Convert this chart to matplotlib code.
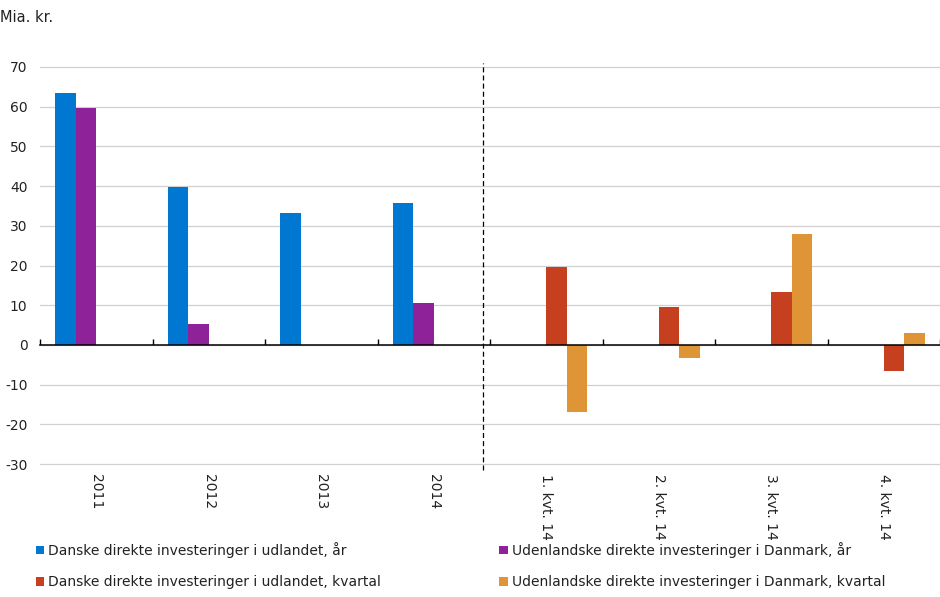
import matplotlib
matplotlib.use("Agg")
import matplotlib.pyplot as plt
import numpy as np
from matplotlib.patches import Patch

categories = ["2011", "2012", "2013", "2014", "1. kvt. 14", "2. kvt. 14", "3. kvt. 14", "4. kvt. 14"]
dk_year = [63.4, 39.7, 33.2, 35.8, 0, 0, 0, 0]
fdi_year = [59.6, 5.3, 0, 10.5, 0, 0, 0, 0]
dk_quarter = [0, 0, 0, 0, 19.6, 9.6, 13.3, -6.7]
fdi_quarter = [0, 0, 0, 0, -16.9, -3.4, 28.0, 3.0]
series_names = [
    "Danske direkte investeringer i udlandet, år",
    "Udenlandske direkte investeringer i Danmark, år",
    "Danske direkte investeringer i udlandet, kvartal",
    "Udenlandske direkte investeringer i Danmark, kvartal",
]
colors = ["#0078d2", "#8e2399", "#c63f1f", "#df9536"]

plt.rcParams['font.family'] = ['DejaVu Sans']
plt.rcParams['axes.unicode_minus'] = False
fig = plt.figure(figsize=(9.4, 5.97), dpi=100)
ax = fig.add_axes([40/940, 1-464/597, 1-40/940, (464-67)/597])

x = np.arange(len(categories))
w = 0.182
for i, vals in enumerate([dk_year, fdi_year, dk_quarter, fdi_quarter]):
    ax.bar(x + (i - 1.5) * w, vals, width=w, color=colors[i], zorder=3)

ax.set_xlim(-0.5, len(categories) - 0.5)
ax.set_ylim(-30, 70)
ax.set_yticks(range(-30, 71, 10))
ax.yaxis.grid(True, color="#d0d0d0", lw=0.9, zorder=0)
for gl in ax.get_ygridlines():
    gl.set_clip_on(False)
ax.tick_params(axis='y', length=0, pad=9, labelsize=10, colors="#222222")
for s in ['left', 'right', 'top']:
    ax.spines[s].set_visible(False)
ax.spines['bottom'].set_position(('data', 0))
ax.spines['bottom'].set_zorder(4)
ax.spines['bottom'].set_linewidth(1.1)

ax.set_xticks(x)
ax.set_xticklabels(categories, rotation=270, va='top', ha='center', fontsize=10, color="#222222")
ax.set_xticks(np.arange(-0.5, len(categories) + 0.5, 1), minor=True)
ax.tick_params(axis='x', which='major', length=0, pad=93)
ax.tick_params(axis='x', which='minor', direction='in', length=4, width=1)

ax.axvline(3.44, ymin=-0.015, ymax=1.01, color='black', lw=0.9, ls=(0, (4, 2.5)), clip_on=False, zorder=5)

fig.text(0.0, 1-18/597, "Mia. kr.", fontsize=10.5, va='center', ha='left', color="#222222")

handles = [Patch(facecolor=c, edgecolor='none') for c in colors]
order = [0, 2, 1, 3]
leg = fig.legend([handles[i] for i in order], [series_names[i] for i in order],
                 ncol=2, loc='lower left', bbox_to_anchor=(0.025, -0.008), frameon=False,
                 fontsize=10, handlelength=0.6, handleheight=0.6, handletextpad=0.3,
                 columnspacing=8.5, labelspacing=1.25)
for t in leg.get_texts():
    t.set_color("#222222")

fig.savefig("out.png", dpi=100)
